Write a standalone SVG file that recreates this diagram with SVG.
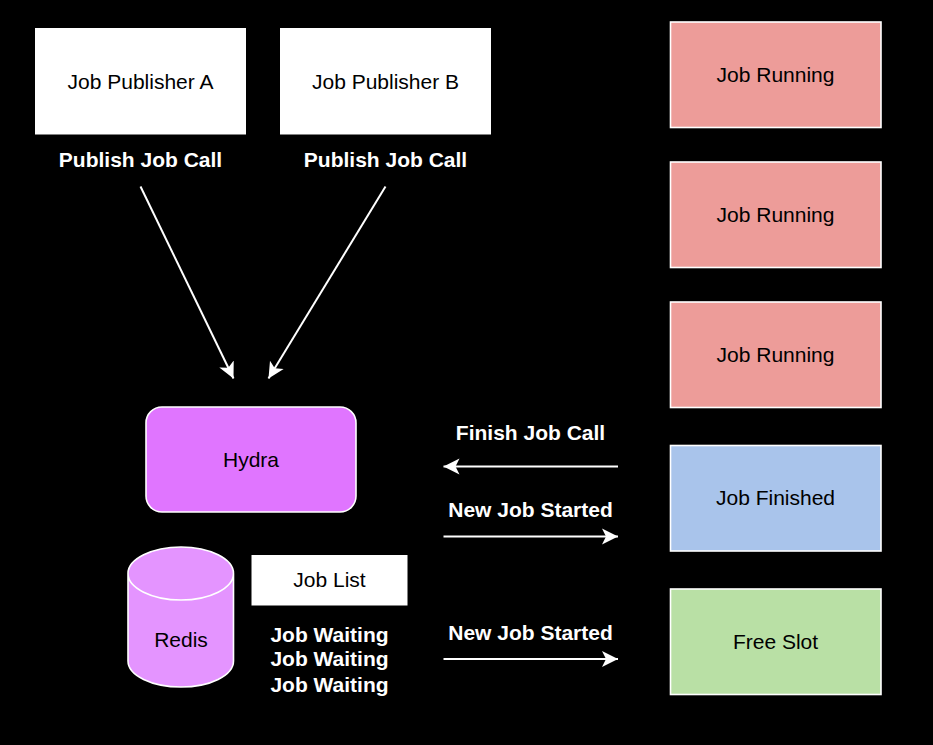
<svg xmlns="http://www.w3.org/2000/svg" width="933" height="745" viewBox="0 0 933 745">
<style>
text{font-family:"Liberation Sans",Arial,sans-serif;font-size:21px;text-anchor:middle;fill:#000}
.b{font-weight:bold;fill:#fff}
.n{stroke:#fff;stroke-width:1.6}
.c{stroke:#fff;stroke-width:2;fill:none;marker-end:url(#a)}
</style>
<defs><marker id="a" markerUnits="userSpaceOnUse" markerWidth="18" markerHeight="18" refX="16" refY="9" orient="auto"><path d="M0 1L16 9L0 17L4 9Z" fill="#fff"/></marker></defs>
<rect width="933" height="745" fill="#000"/>
<g id="connectors">
<path class="c" d="M140.500 186.500L233.500 378.500"/>
<path class="c" d="M385.500 186.500L268.500 378.500"/>
<path class="c" d="M618 466.500H443.500"/>
<path class="c" d="M443.500 536.500H618"/>
<path class="c" d="M443.500 659H618"/>
</g>
<g id="publisher-a"><rect x="35" y="28" width="211" height="106.500" fill="#fff"/><text x="140.500" y="89">Job Publisher A</text></g>
<g id="publisher-b"><rect x="280" y="28" width="211" height="106.500" fill="#fff"/><text x="385.500" y="89">Job Publisher B</text></g>
<g id="label-pub-a"><text class="b" x="140.500" y="167">Publish Job Call</text></g>
<g id="label-pub-b"><text class="b" x="385.500" y="167">Publish Job Call</text></g>
<g id="run1"><rect class="n" x="670.500" y="22" width="210.500" height="105.500" fill="#ed9c99"/><text x="775.500" y="82">Job Running</text></g>
<g id="run2"><rect class="n" x="670.500" y="162" width="210.500" height="105.500" fill="#ed9c99"/><text x="775.500" y="222">Job Running</text></g>
<g id="run3"><rect class="n" x="670.500" y="302" width="210.500" height="105.500" fill="#ed9c99"/><text x="775.500" y="362">Job Running</text></g>
<g id="finished"><rect class="n" x="670.500" y="445.500" width="210.500" height="105.500" fill="#a9c4eb"/><text x="775.500" y="505">Job Finished</text></g>
<g id="free"><rect class="n" x="670.500" y="589" width="210.500" height="105.500" fill="#b9e0a5"/><text x="775.500" y="649">Free Slot</text></g>
<g id="hydra"><rect class="n" x="146" y="407" width="210" height="105" rx="16" fill="#e075ff"/><text x="251" y="467">Hydra</text></g>
<g id="redis"><path class="n" d="M128 573.500V661C128 675.500 152 687 181 687S233.500 675.500 233.500 661V573.500C233.500 559 210 547 181 547S128 559 128 573.500C128 588 152 600 181 600S233.500 588 233.500 573.500" fill="#e494ff"/><text x="181" y="647">Redis</text></g>
<g id="job-list"><rect x="251.500" y="555" width="156" height="50.500" fill="#fff"/><text x="329.500" y="587">Job List</text></g>
<g id="waiting">
<text class="b" x="329.500" y="642">Job Waiting</text>
<text class="b" x="329.500" y="666">Job Waiting</text>
<text class="b" x="329.500" y="692">Job Waiting</text>
</g>
<g id="labels">
<text class="b" x="530.500" y="440">Finish Job Call</text>
<text class="b" x="530.500" y="517">New Job Started</text>
<text class="b" x="530.500" y="640">New Job Started</text>
</g>
</svg>
